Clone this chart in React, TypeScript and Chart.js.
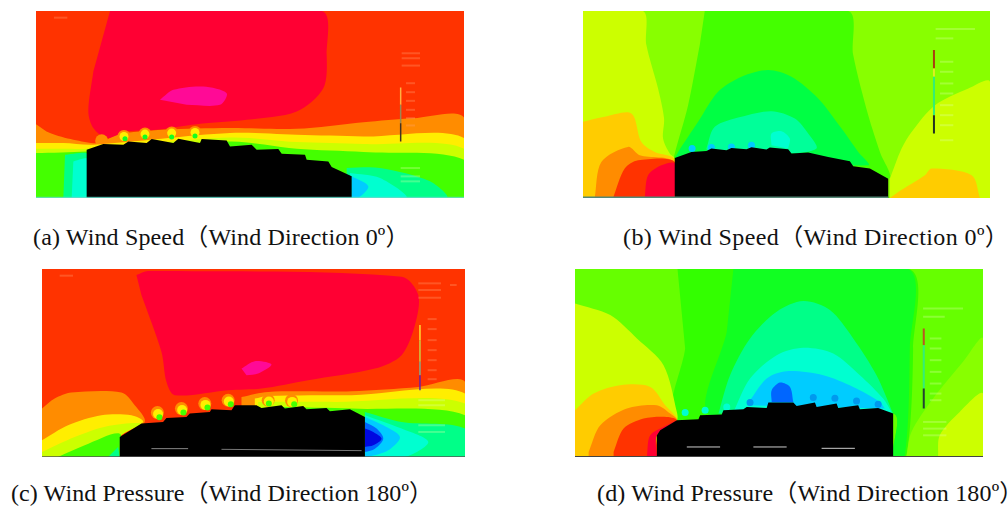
import React, { useEffect, useRef } from "react";
import { Chart, registerables } from "chart.js";

Chart.register(...registerables);

type Pt = [number, number];
type Layer =
  | { kind: "area"; color: string; pts: Pt[]; smooth?: number }
  | { kind: "dots"; color: string; pts: Pt[]; r: number }
  | { kind: "line"; color: string; pts: Pt[]; w: number };

// ---------- captions ----------
const captionA = "(a) Wind Speed（Wind Direction 0º）";
const captionB = "(b) Wind Speed（Wind Direction 0º）";
const captionC = "(c) Wind Pressure（Wind Direction 180º）";
const captionD = "(d) Wind Pressure（Wind Direction 180º）";

// ---------- contour palette ----------
const cMagenta = "#ff0a96";
const cCrimson = "#ff0033";
const cRed = "#ff3300";
const cOrange = "#ff8c00";
const cGold = "#ffcc00";
const cYellow = "#ffee00";
const cLime = "#ccff00";
const cChart = "#88ff00";
const cGreen = "#44ff00";
const cGreen2 = "#11ff22";
const cGreen3 = "#00ff44";
const cSpring = "#00ff88";
const cAqua = "#00ffd0";
const cSky = "#00ccff";
const cBlue = "#0066ff";
const cDeep = "#0008e0";
const cBlack = "#000000";

// ---------- panel (a): wind speed, section A ----------
const aOrange: Pt[] = [[18,358],[60,385],[130,405],[210,415],[260,390],[400,375],[600,370],[800,372],[1000,352],[1150,340],[1302,338],[1302,580],[18,580]];
const aCrimson: Pt[] = [[240,18],[875,18],[890,150],[880,250],[800,320],[650,345],[500,358],[380,375],[290,380],[230,400],[190,370],[175,320],[190,200]];
const aMagenta: Pt[] = [[390,285],[430,255],[520,245],[590,265],[570,300],[470,300]];
const aYellow: Pt[] = [[18,415],[100,415],[190,420],[600,385],[800,390],[1000,395],[1302,400],[1302,580],[18,580]];
const aLime: Pt[] = [[18,432],[100,432],[170,432],[600,398],[800,412],[1000,418],[1302,432],[1302,580],[18,580]];
const aGreen: Pt[] = [[18,445],[170,440],[600,410],[800,432],[1000,442],[1302,465],[1302,580],[18,580]];
const aSpringL: Pt[] = [[105,450],[170,445],[170,580],[100,580]];
const aSpringR: Pt[] = [[950,490],[1050,490],[1200,530],[1250,580],[950,580]];
const aAquaL: Pt[] = [[130,470],[170,460],[170,580],[125,580]];
const aAquaR: Pt[] = [[960,505],[1050,520],[1130,580],[960,580]];
const aSky: Pt[] = [[965,515],[1015,545],[985,580],[965,580]];
const aBumpsOuter: Pt[] = [[215,408],[282,395],[345,388],[425,385],[495,383]];
const aBumpsInner: Pt[] = [[285,402],[345,397],[425,397],[495,394]];
const aRoof: Pt[] = [[170,435],[220,418],[280,420],[295,410],[350,415],[365,403],[430,415],[445,402],[510,415],[515,403],[590,407],[600,425],[665,420],[680,435],[745,433],[755,447],[825,450],[830,465],[895,470],[905,487],[965,515],[965,580],[170,580]];
const aBar1: Pt[] = [[1112,248],[1112,300]];
const aBar2: Pt[] = [[1112,300],[1112,355]];
const aBar3: Pt[] = [[1112,355],[1112,410]];
const aNoteRows = [145, 160, 182];
const aTickRows = [235, 262, 288, 315, 340, 362];
const aFootRows = [490, 515, 530];

// ---------- panel (b): wind speed, section B ----------
const bLeftLime: Pt[] = [[25,18],[205,18],[215,120],[250,250],[268,340],[265,400],[285,445],[300,460],[300,578],[25,578]];
const bMid: Pt[] = [[390,18],[820,18],[835,150],[880,330],[915,440],[940,520],[300,460],[300,445],[340,300],[375,120]];
const bDome1: Pt[] = [[310,440],[370,350],[430,260],[500,215],[580,195],[650,215],[730,280],[800,370],[850,440],[880,480],[300,460]];
const bDome2: Pt[] = [[395,430],[420,365],[500,335],[590,318],[660,340],[700,385],[725,430],[640,445],[400,445]];
const bDome3: Pt[] = [[590,420],[590,385],[620,378],[645,400],[640,430]];
const bBumps: Pt[] = [[352,430],[410,427],[470,425],[530,420]];
const bGold: Pt[] = [[25,350],[90,335],[170,325],[200,410],[240,440],[300,462],[300,578],[25,578]];
const bOrange: Pt[] = [[60,578],[80,470],[160,425],[195,450],[300,470],[300,578]];
const bRed: Pt[] = [[115,578],[150,490],[190,465],[300,470],[300,578]];
const bCrimson: Pt[] = [[210,578],[220,510],[260,480],[300,475],[300,578]];
const bRightLime: Pt[] = [[945,520],[980,430],[1010,380],[1080,300],[1180,250],[1245,230],[1245,578],[945,578]];
const bRightGold: Pt[] = [[945,578],[970,560],[1050,510],[1070,490],[1190,510],[1215,578]];
const bRoof: Pt[] = [[300,458],[350,440],[395,437],[410,430],[455,435],[470,428],[515,432],[530,426],[575,433],[585,427],[640,432],[650,445],[700,442],[760,455],[825,468],[835,483],[885,490],[940,520],[940,578],[300,578]];
const bStrip: Pt[] = [[25,576],[940,576]];
const bBar1: Pt[] = [[1077,135],[1077,190]];
const bBar2: Pt[] = [[1077,190],[1077,215]];
const bBar3: Pt[] = [[1077,215],[1077,330]];
const bBar4: Pt[] = [[1077,330],[1077,385]];
const bNoteRows = [72, 100];
const bTickRows = [170, 200, 235, 265, 300, 330, 360, 405];

// ---------- panel (c): wind pressure, section A ----------
const cOrangeL: Pt[] = [[22,430],[60,400],[110,382],[260,382],[300,420],[330,470],[255,515],[255,575],[22,575]];
const cOrangeR: Pt[] = [[620,395],[700,380],[950,378],[1150,365],[1290,350],[1290,575],[620,575]];
const cYellowL: Pt[] = [[22,525],[100,480],[200,450],[290,450],[325,470],[255,515],[255,575],[22,575]];
const cYellowR: Pt[] = [[660,400],[700,392],[950,390],[1290,385],[1290,575],[660,575]];
const cLimeL: Pt[] = [[22,560],[120,515],[220,482],[320,475],[255,515],[255,575],[22,575]];
const cGreenL: Pt[] = [[70,575],[150,540],[255,505],[255,575]];
const cSpringL: Pt[] = [[220,575],[250,545],[255,575]];
const cLimeR: Pt[] = [[670,410],[900,410],[1290,415],[1290,575],[670,575]];
const cGreenR: Pt[] = [[740,425],[950,430],[1290,450],[1290,575],[950,575]];
const cSpringR: Pt[] = [[990,440],[1100,470],[1290,490],[1290,575],[990,575]];
const cAquaR: Pt[] = [[990,450],[1100,490],[1180,530],[1110,575],[990,575]];
const cSkyR: Pt[] = [[990,455],[1045,480],[1095,515],[1060,555],[1000,575],[990,575]];
const cBlueR: Pt[] = [[990,470],[1025,490],[1045,520],[1020,550],[990,560]];
const cDeepR: Pt[] = [[990,490],[1015,500],[1040,520],[1015,540],[990,545]];
const cCrimsonZone: Pt[] = [[305,30],[340,18],[1100,35],[1150,90],[1140,180],[1100,270],[1020,310],[820,345],[680,370],[580,375],[420,390],[395,350],[380,260],[320,90]];
const cMagentaZone: Pt[] = [[620,310],[660,288],[710,298],[670,325],[635,330]];
const cBumpsOuter: Pt[] = [[368,442],[440,430],[510,415],[580,405],[700,405],[770,406]];
const cBumpsMiddle: Pt[] = [[370,446],[442,434],[512,419],[582,409],[702,409],[772,410]];
const cBumpsInner: Pt[] = [[374,456],[446,442],[518,427],[588,417],[702,415],[778,417]];
const cRoof: Pt[] = [[255,515],[320,475],[385,470],[395,458],[455,455],[465,445],[525,440],[530,432],[590,435],[600,420],[665,420],[680,428],[740,420],[750,430],[805,422],[815,432],[875,428],[885,438],[945,432],[990,455],[990,575],[255,575]];
const cWhite: Pt[] = [[350,550],[460,550]];
const cWhite2: Pt[] = [[560,552],[980,556]];
const cBar1: Pt[] = [[1155,180],[1155,225]];
const cBar2: Pt[] = [[1155,225],[1155,290]];
const cBar3: Pt[] = [[1155,290],[1155,330]];
const cBar4: Pt[] = [[1155,330],[1155,375]];
const cNoteRows = [55, 75, 98];
const cTickRows = [162, 192, 225, 255, 285, 315, 342];
const cFootRows = [405, 420, 480, 500];

// ---------- panel (d): wind pressure, section B ----------
const dMid: Pt[] = [[322,12],[1018,12],[1030,250],[1010,570],[970,575],[970,445],[320,465],[345,250]];
const dCentre: Pt[] = [[490,12],[1015,12],[1020,250],[1005,570],[970,575],[970,445],[420,450],[470,200]];
const dDome1: Pt[] = [[445,445],[480,330],[540,220],[620,140],[700,108],[780,135],[850,220],[920,330],[970,445]];
const dDome2: Pt[] = [[490,440],[540,340],[620,270],[700,248],[790,265],[870,330],[940,400],[965,440]];
const dDome3: Pt[] = [[530,420],[590,340],[650,318],[760,330],[850,365],[930,410],[945,430]];
const dDome4: Pt[] = [[605,410],[605,375],[630,352],[660,365],[670,410]];
const dBumpsBlue: Pt[] = [[540,412],[730,397],[795,399],[860,407],[925,417]];
const dBumpsAqua: Pt[] = [[470,425],[405,435],[345,442]];
const dLime: Pt[] = [[14,115],[120,150],[200,220],[280,300],[320,440],[320,465],[260,510],[260,575],[14,575]];
const dGold: Pt[] = [[14,435],[70,385],[150,360],[240,365],[285,420],[320,465],[260,510],[260,575],[14,575]];
const dOrange: Pt[] = [[55,560],[90,480],[170,430],[260,420],[300,445],[320,465],[260,510],[260,575],[55,575]];
const dRed: Pt[] = [[130,560],[160,490],[220,460],[290,455],[320,465],[260,510],[260,575],[130,575]];
const dCrimson: Pt[] = [[230,575],[240,510],[290,480],[320,465],[260,510],[260,575]];
const dRightChart: Pt[] = [[1010,575],[1025,500],[1090,400],[1180,290],[1240,220],[1240,575]];
const dRightLime: Pt[] = [[1105,575],[1110,510],[1170,440],[1240,385],[1240,575]];
const dRoof: Pt[] = [[260,510],[270,495],[320,465],[385,462],[390,450],[455,448],[460,435],[520,432],[530,425],[590,428],[595,412],[670,412],[680,422],[735,412],[740,425],[800,415],[805,428],[865,420],[870,432],[925,428],[970,445],[970,575],[260,575]];
const dWhite1: Pt[] = [[350,545],[450,545]];
const dWhite2: Pt[] = [[550,545],[650,545]];
const dWhite3: Pt[] = [[755,549],[855,549]];
const dBar1: Pt[] = [[1062,190],[1062,240]];
const dBar2: Pt[] = [[1062,240],[1062,370]];
const dBar3: Pt[] = [[1062,370],[1062,430]];
const dNoteRows = [130, 155];
const dTickRows = [220, 250, 285, 320, 355, 385, 405];
const dFootRows = [470, 490, 510];

const rect = (x0: number, y0: number, x1: number, y1: number): Pt[] => [[x0,y0],[x1,y0],[x1,y1],[x0,y1]];
const area = (color: string, pts: Pt[], smooth = 0.3): Layer => ({ kind: "area", color, pts, smooth });
const dots = (color: string, pts: Pt[], r: number): Layer => ({ kind: "dots", color, pts, r });
const line = (color: string, pts: Pt[], w: number): Layer => ({ kind: "line", color, pts, w });
// faint annotation strokes: the small labels of the source plot are not legible
const marks = (color: string, x0: number, x1: number, rows: number[]): Layer[] =>
  rows.map((y) => line(color, [[x0, y], [x1, y]], 2));

type Panel = { left: number; top: number; width: number; height: number; x: Pt; y: Pt; layers: Layer[] };

const warmInk = "rgba(255,170,120,0.3)";
const coolInk = "rgba(225,255,170,0.3)";

const panels: Panel[] = [
  {
    left: 36, top: 11, width: 428, height: 187, x: [18, 1302], y: [18, 580],
    layers: [
      area(cRed, rect(18,18,1302,580), 0), area(cOrange, aOrange), area(cCrimson, aCrimson), area(cMagenta, aMagenta),
      dots(cOrange, aBumpsOuter, 6.5), area(cYellow, aYellow), area(cLime, aLime), area(cGreen, aGreen),
      dots(cYellow, aBumpsOuter.slice(1), 4.5), dots(cGreen2, aBumpsInner, 2.5),
      area(cSpring, aSpringL, 0.1), area(cSpring, aSpringR), area(cAqua, aAquaL, 0.1), area(cAqua, aAquaR), area(cSky, aSky),
      area(cBlack, aRoof, 0), line("#66ddcc", [[18,578],[1302,578]], 1),
      line("#ffb040", aBar1, 1.5), line("#998855", aBar2, 1.5), line("#443322", aBar3, 1.5),
      ...marks(warmInk, 1115, 1170, aNoteRows), ...marks(warmInk, 1128, 1155, aTickRows), ...marks(coolInk, 1112, 1170, aFootRows),
      ...marks(warmInk, 72, 112, [38]),
    ],
  },
  {
    left: 583, top: 11, width: 407, height: 187, x: [25, 1245], y: [18, 578],
    layers: [
      area(cChart, rect(25,18,1245,578), 0), area(cLime, bLeftLime), area(cGreen, bMid), area(cGreen3, bDome1), area("#00ff99", bDome2),
      area(cAqua, bDome3), dots(cSky, bBumps, 3.5), area(cGold, bGold), area(cOrange, bOrange), area(cRed, bRed), area(cCrimson, bCrimson),
      area(cLime, bRightLime), area(cGold, bRightGold), area(cBlack, bRoof, 0),
      line("#558877", bStrip, 1.5), line("#aa4010", bBar1, 2), line("#ddee22", bBar2, 2), line("#33ee77", bBar3, 2), line("#223322", bBar4, 2),
      ...marks(coolInk, 1082, 1200, bNoteRows.slice(0, 1)), ...marks(coolInk, 1082, 1135, bNoteRows.slice(1)), ...marks(coolInk, 1095, 1135, bTickRows),
    ],
  },
  {
    left: 42, top: 269, width: 423, height: 188, x: [22, 1290], y: [12, 575],
    layers: [
      area(cRed, rect(22,12,1290,575), 0), area(cCrimson, cCrimsonZone), area(cMagenta, cMagentaZone),
      area(cOrange, cOrangeL), area(cOrange, cOrangeR), area(cYellow, cYellowL), area(cYellow, cYellowR), area(cLime, cLimeL), area(cGreen, cGreenL), area(cSpring, cSpringL, 0),
      area(cLime, cLimeR), area(cGreen, cGreenR), area(cSpring, cSpringR), area(cAqua, cAquaR), area(cSky, cSkyR), area(cBlue, cBlueR), area(cDeep, cDeepR),
      dots(cOrange, cBumpsOuter, 6.5), dots(cYellow, cBumpsMiddle, 5), dots(cGreen, cBumpsInner, 3),
      area(cBlack, cRoof, 0), line("#888888", cWhite, 1), line("#777777", cWhite2, 1), line("#555555", [[22,575],[1290,575]], 1.5),
      line("#ffdd33", cBar1, 1.5), line("#cccc44", cBar2, 1.5), line("#88aa88", cBar3, 1.5), line("#6622aa", cBar4, 1.5),
      ...marks(warmInk, 1150, 1218, cNoteRows), ...marks(warmInk, 1178, 1205, cTickRows), ...marks(coolInk, 1150, 1230, cFootRows),
      ...marks(warmInk, 75, 115, [32]), ...marks(warmInk, 1245, 1265, [60]),
    ],
  },
  {
    left: 575, top: 269, width: 408, height: 188, x: [14, 1240], y: [12, 575],
    layers: [
      area("#66ff00", rect(14,12,1240,575), 0), area("#33ff00", dMid), area(cGreen2, dCentre), area(cSpring, dDome1), area(cAqua, dDome2), area(cSky, dDome3),
      dots(cAqua, dBumpsAqua, 3.5), dots("#0099ee", dBumpsBlue, 3.5), area(cBlue, dDome4),
      area(cLime, dLime), area(cGold, dGold), area(cOrange, dOrange), area(cRed, dRed), area(cCrimson, dCrimson),
      area(cChart, dRightChart), area(cLime, dRightLime), area(cBlack, dRoof, 0),
      line("#cccccc", dWhite1, 1), line("#cccccc", dWhite2, 1), line("#cccccc", dWhite3, 1), line("#444444", [[14,574],[1240,574]], 1.5),
      line("#bb5522", dBar1, 2), line("#33ee77", dBar2, 2), line("#224433", dBar3, 2),
      ...marks(coolInk, 1060, 1180, dNoteRows.slice(0, 1)), ...marks(coolInk, 1060, 1125, dNoteRows.slice(1)), ...marks(coolInk, 1080, 1115, dTickRows), ...marks(coolInk, 1060, 1130, dFootRows),
    ],
  },
];

const captions = [
  { text: captionA, left: 33, top: 226, spacing: 0.15 },
  { text: captionB, left: 623, top: 226, spacing: 0.4 },
  { text: captionC, left: 11, top: 482, spacing: 0.1 },
  { text: captionD, left: 597, top: 482, spacing: 0.18 },
];

function toDataset(l: Layer) {
  const data = l.pts.map(([x, y]) => ({ x, y }));
  if (l.kind === "area") {
    return { data, showLine: true, fill: "shape", backgroundColor: l.color, borderColor: l.color, borderWidth: 0, tension: l.smooth ?? 0, pointRadius: 0 };
  }
  if (l.kind === "dots") {
    return { data, showLine: false, pointRadius: l.r, pointBackgroundColor: l.color, pointBorderWidth: 0 };
  }
  return { data, showLine: true, fill: false, borderColor: l.color, borderWidth: l.w, pointRadius: 0 };
}

function ContourPanel({ panel }: { panel: Panel }) {
  const ref = useRef<HTMLCanvasElement>(null);
  useEffect(() => {
    const chart = new Chart(ref.current!, {
      type: "scatter",
      // Chart.js paints the first dataset last, so the stack is reversed.
      data: { datasets: panel.layers.map(toDataset).reverse() as any },
      options: {
        animation: false,
        responsive: false,
        layout: { padding: 0, autoPadding: false },
        events: [],
        plugins: { legend: { display: false }, tooltip: { enabled: false } },
        scales: {
          x: { type: "linear", display: false, min: panel.x[0], max: panel.x[1] },
          y: { type: "linear", display: false, reverse: true, min: panel.y[0], max: panel.y[1] },
        },
      },
    });
    return () => chart.destroy();
  }, [panel]);
  return (
    <canvas
      ref={ref}
      width={panel.width}
      height={panel.height}
      style={{ position: "absolute", left: panel.left, top: panel.top, width: panel.width, height: panel.height, filter: "blur(0.7px)" }}
    />
  );
}

export default function App() {
  return (
    <div style={{ position: "absolute", left: 0, top: 0, width: 1008, height: 506, background: "#fff", overflow: "hidden" }}>
      {panels.map((p, i) => (
        <ContourPanel key={i} panel={p} />
      ))}
      {captions.map((c) => (
        <div
          key={c.text}
          style={{
            position: "absolute", left: c.left, top: c.top, whiteSpace: "nowrap", color: "#111",
            fontFamily: "'Liberation Serif', 'Noto Sans CJK SC', serif", fontSize: 24, lineHeight: "22px", letterSpacing: c.spacing,
          }}
        >
          {c.text}
        </div>
      ))}
    </div>
  );
}
